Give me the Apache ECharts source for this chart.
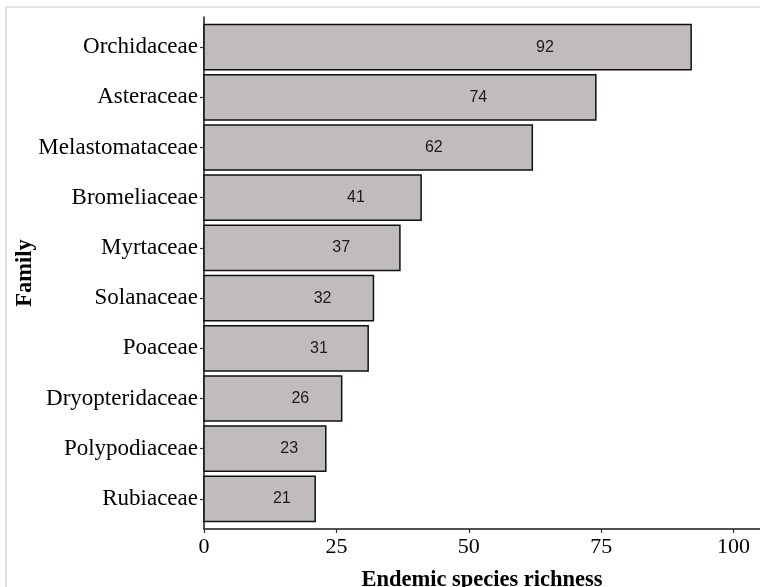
<!DOCTYPE html>
<html>
<head>
<meta charset="utf-8">
<title>Endemic species richness by family</title>
<script src="https://cdn.jsdelivr.net/npm/echarts@6/dist/echarts.min.js"></script>
<style>
  html, body { margin: 0; padding: 0; background: #fff; }
  #chart { width: 760px; height: 587px; }
</style>
</head>
<body>
<div id="chart"></div>
<script>
// family names, top to bottom
const families = ['Orchidaceae', 'Asteraceae', 'Melastomataceae', 'Bromeliaceae', 'Myrtaceae',
  'Solanaceae', 'Poaceae', 'Dryopteridaceae', 'Polypodiaceae', 'Rubiaceae']
// endemic species per family
const richness = [92, 74, 62, 41, 37, 32, 31, 26, 23, 21]
// x axis ticks
const xTicks = [0, 25, 50, 75, 100]

const serif = '"Liberation Serif", "DejaVu Serif", serif'
const sans = '"Liberation Sans", Arial, sans-serif'

let chart = echarts.init(document.getElementById('chart'))

// y is a value axis (row index) so both ends get the same padding as the original,
// bars are drawn with a custom series through the axes' scales
const barData = richness.map((v, i) => [v, i])
const rowIdx = families.map((f, i) => i)

function renderBar(params, api) {
  const row = api.value(1)
  const start = api.coord([0, row])
  const end = api.coord([api.value(0), row])
  const h = api.size([0, 0.9])[1]
  const w = end[0] - start[0]
  return {
    type: 'group',
    children: [
      {
        type: 'rect',
        shape: { x: start[0], y: start[1] - h / 2, width: w, height: h },
        style: { fill: '#c0bcbb', stroke: '#111', lineWidth: 1.5 }
      },
      {
        type: 'text',
        x: start[0] + w * 0.7,
        y: start[1],
        style: {
          text: String(api.value(0)),
          align: 'center',
          verticalAlign: 'middle',
          font: '16px ' + sans,
          fill: '#1a1a1a'
        }
      }
    ]
  }
}

const option = {
  backgroundColor: '#fff',
  animation: false,
  graphic: [
    // light frame of the original figure
    { type: 'line', shape: { x1: 6, y1: 7, x2: 760, y2: 7 }, style: { stroke: '#e2e2de', lineWidth: 2 } },
    { type: 'line', shape: { x1: 6, y1: 7, x2: 6, y2: 587 }, style: { stroke: '#e2e2de', lineWidth: 2 } }
  ],
  grid: {
    left: 204,
    right: 0,
    top: 17,
    bottom: 58,
    containLabel: false,
    outerBoundsMode: 'none'
  },
  xAxis: {
    type: 'value',
    min: 0,
    max: 105,
    name: 'Endemic species richness',
    nameLocation: 'middle',
    nameGap: 40,
    nameMoveOverlap: false,
    nameTextStyle: { fontFamily: serif, fontWeight: 'bold', fontSize: 22.5, color: '#000' },
    splitLine: { show: false },
    axisLine: { show: true, onZero: false, lineStyle: { color: '#1a1a1a', width: 1.5 } },
    axisTick: { show: true, length: 4, customValues: xTicks, lineStyle: { color: '#333', width: 1.2 } },
    axisLabel: {
      customValues: xTicks,
      margin: 7,
      fontFamily: serif,
      fontSize: 22,
      color: '#000'
    }
  },
  yAxis: {
    type: 'value',
    inverse: true,
    min: -0.6,
    max: 9.6,
    name: 'Family',
    nameLocation: 'middle',
    nameGap: 167,
    nameRotate: 90,
    nameMoveOverlap: false,
    nameTextStyle: { fontFamily: serif, fontWeight: 'bold', fontSize: 22.5, color: '#000' },
    splitLine: { show: false },
    axisLine: { show: true, onZero: false, lineStyle: { color: '#1a1a1a', width: 1.5 } },
    axisTick: { show: true, length: 4, customValues: rowIdx, lineStyle: { color: '#333', width: 1.2 } },
    axisLabel: {
      customValues: rowIdx,
      margin: 6,
      fontFamily: serif,
      fontSize: 23,
      color: '#000',
      formatter: v => families[Math.round(v)]
    }
  },
  series: [
    {
      type: 'custom',
      renderItem: renderBar,
      encode: { x: 0, y: 1 },
      data: barData
    }
  ]
}

chart.setOption(option)
</script>
</body>
</html>
